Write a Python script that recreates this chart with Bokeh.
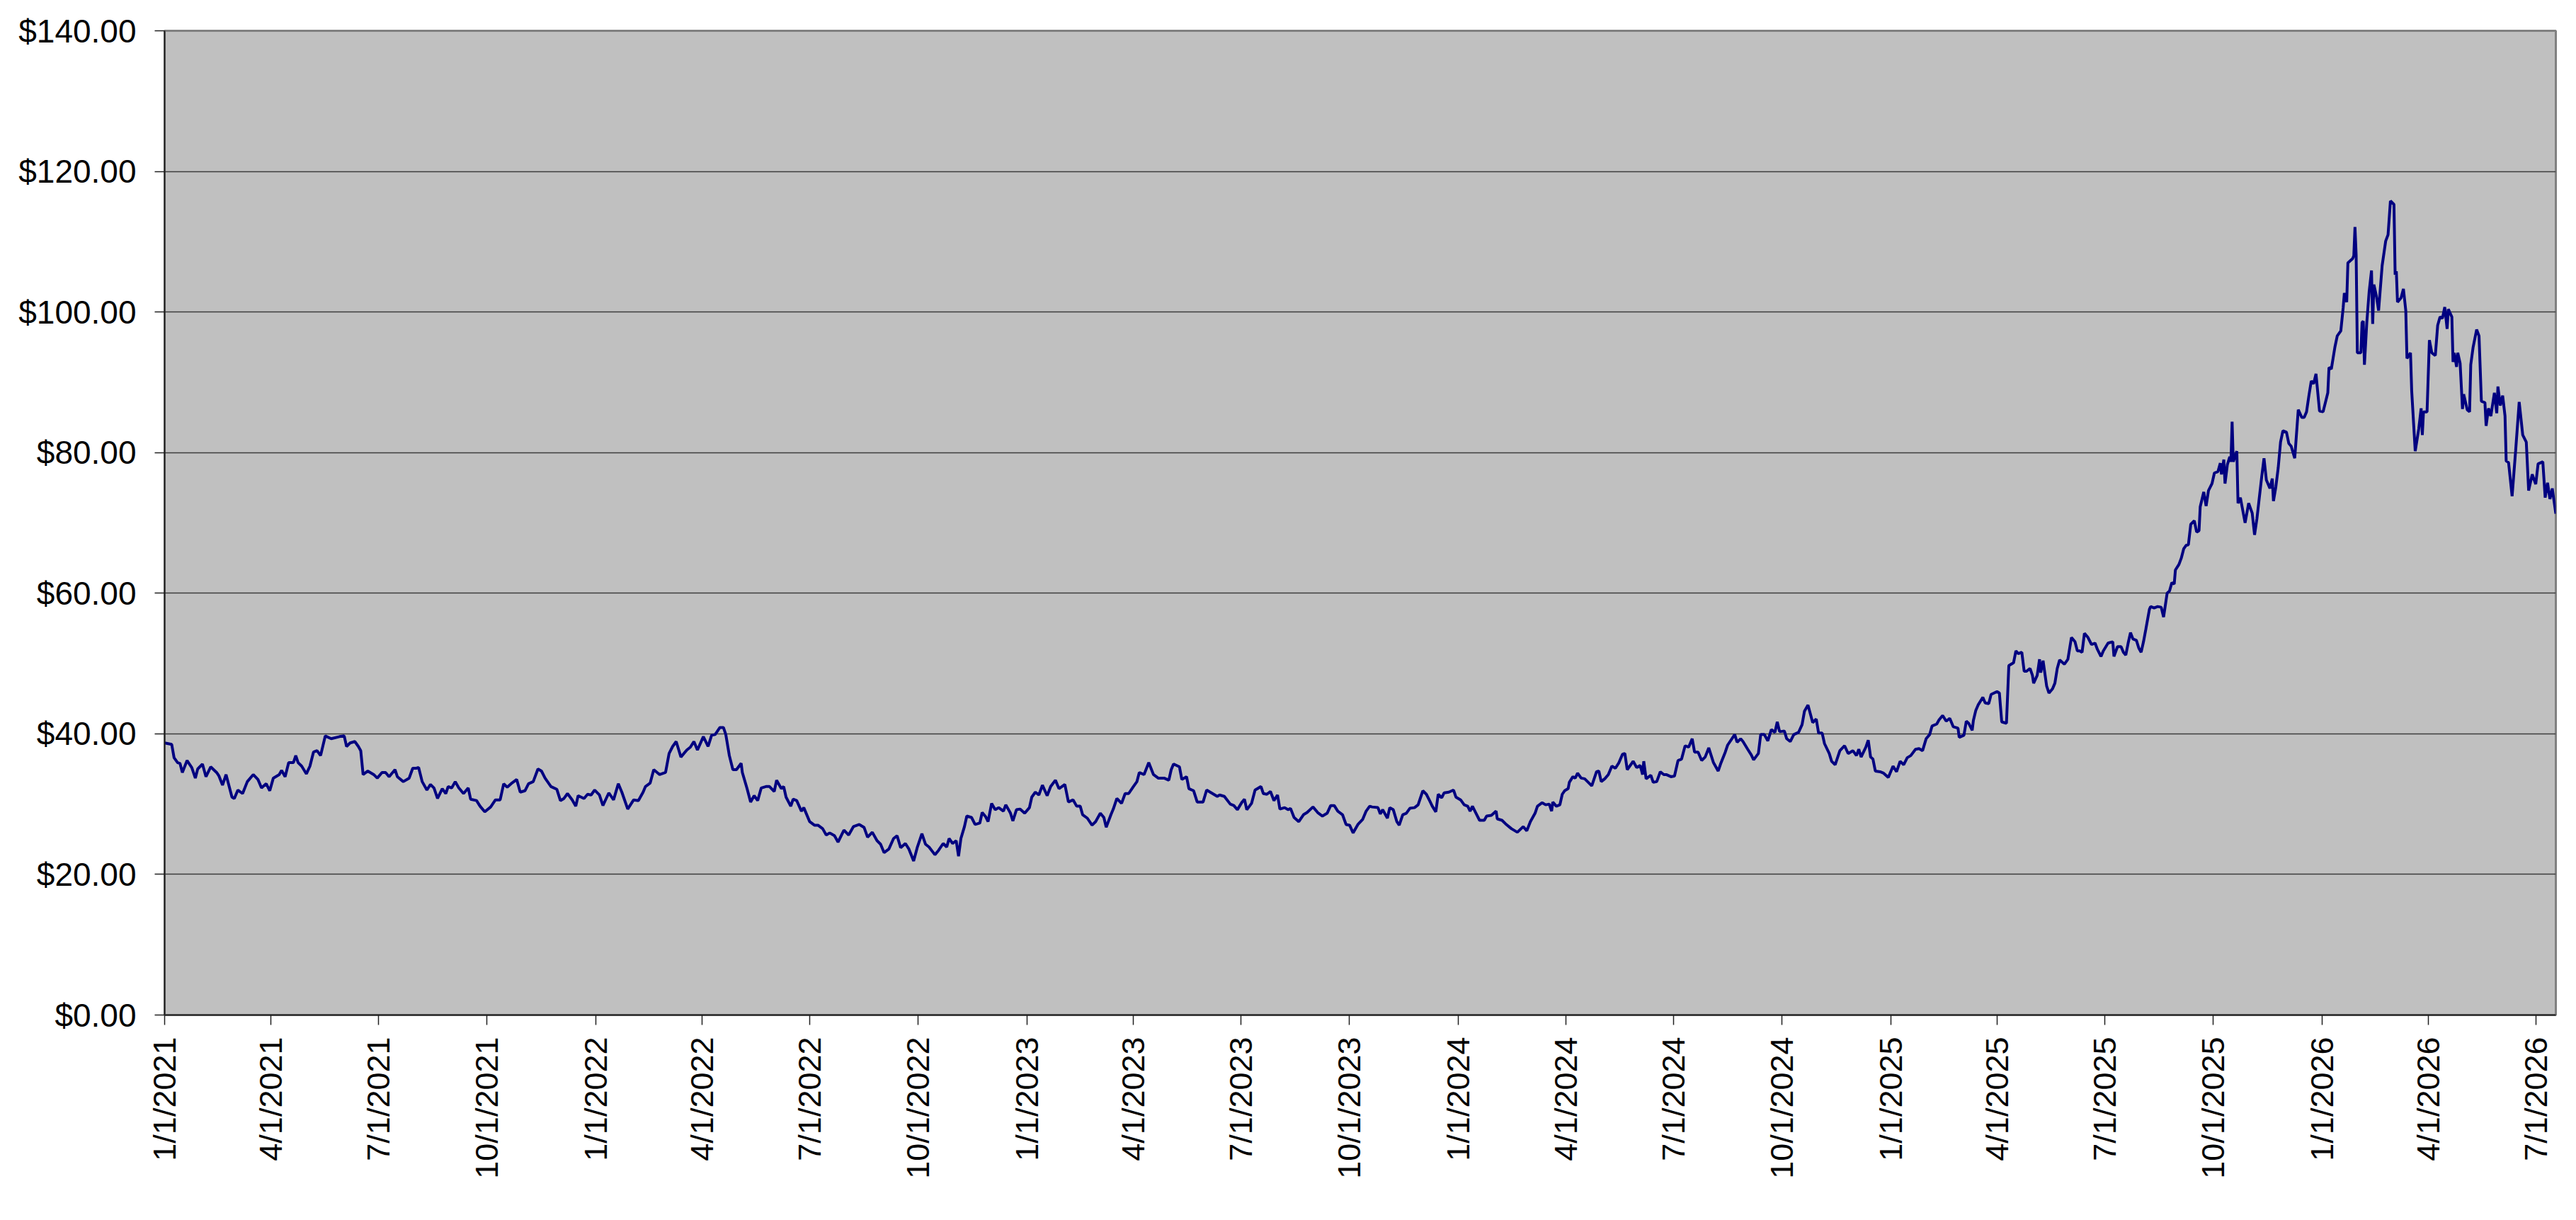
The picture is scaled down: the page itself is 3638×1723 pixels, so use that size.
import math
import numpy as np
import pandas as pd
from bokeh.plotting import figure
from bokeh.models import (ColumnDataSource, Range1d, FixedTicker,
                          NumeralTickFormatter, CustomJSTickFormatter)
from bokeh.embed import file_html
from bokeh.resources import INLINE

# ---- data: (days since 1/1/2021, price) ----
start_date = "2021-01-01"

series_2021_2022 = [
    (0, 38.7), (6, 38.5), (8, 36.6), (11, 35.9), (13, 35.8), (15, 34.5), (19, 36.2), (23, 35.2),
    (26, 33.7), (28, 35.0), (32, 35.7), (35, 33.9), (39, 35.3), (44, 34.5), (46, 34.0), (49, 32.7),
    (52, 34.2), (57, 31.0), (59, 30.8), (62, 32.0), (66, 31.5), (70, 33.2), (75, 34.2), (79, 33.5),
    (82, 32.3), (86, 32.9), (89, 31.9), (92, 33.7), (97, 34.2), (99, 34.8), (102, 33.9), (105, 35.9),
    (109, 35.9), (111, 36.9), (113, 35.9), (116, 35.4), (120, 34.3), (123, 35.4), (126, 37.4),
    (129, 37.6), (132, 36.9), (136, 39.7), (141, 39.3), (148, 39.6), (152, 39.7), (154, 38.2),
    (157, 38.7), (161, 38.9), (164, 38.2), (166, 37.6), (168, 34.2), (172, 34.7), (177, 34.2),
    (180, 33.7), (184, 34.5), (187, 34.5), (190, 33.9), (195, 34.9), (197, 33.9), (202, 33.2),
    (207, 33.7), (210, 35.1), (213, 35.1), (215, 35.2), (218, 33.2), (222, 32.0), (225, 32.8),
    (228, 32.3), (231, 30.8), (235, 32.2), (238, 31.5), (240, 32.5), (243, 32.3), (246, 33.2),
    (249, 32.3), (253, 31.5), (257, 32.3), (259, 30.7), (264, 30.5), (267, 29.7), (271, 28.9),
    (276, 29.6), (280, 30.6), (284, 30.6), (287, 32.9), (290, 32.4), (294, 33.0), (298, 33.5),
    (301, 31.7), (305, 31.9), (308, 32.9), (312, 33.2), (316, 35.0), (319, 34.7), (322, 33.7),
    (327, 32.5), (332, 32.1), (335, 30.5), (338, 30.8), (341, 31.5), (345, 30.6), (348, 29.7),
    (350, 31.2), (355, 30.8), (358, 31.4), (361, 31.3), (364, 32.0), (368, 31.3), (371, 29.8),
    (376, 31.6), (380, 30.6), (384, 32.9), (387, 31.7), (392, 29.3), (397, 30.6), (401, 30.5),
    (405, 31.7), (407, 32.5), (411, 33.0), (414, 34.9), (419, 34.2), (424, 34.5), (427, 37.2),
    (430, 38.2), (433, 38.9), (437, 36.7), (442, 37.7), (445, 38.1), (448, 38.9), (451, 37.7),
    (456, 39.6), (460, 38.2), (463, 39.8), (466, 39.9), (470, 40.9), (473, 40.9), (475, 39.9),
    (478, 36.9), (481, 34.9), (484, 34.9), (488, 35.8), (489, 34.5), (493, 32.2), (496, 30.3),
    (499, 31.2), (502, 30.5), (505, 32.3), (509, 32.5),
    (512, 32.5), (516, 31.8), (518, 33.4), (522, 32.2), (524, 32.5), (526, 31.0), (530, 29.7),
    (532, 30.7), (535, 30.5), (539, 29.0), (541, 29.5), (546, 27.5), (550, 27.0), (553, 27.0),
    (557, 26.5), (560, 25.6), (563, 25.9), (567, 25.5), (570, 24.6), (575, 26.3), (579, 25.6),
    (583, 26.8), (588, 27.1), (592, 26.7), (595, 25.3), (599, 26.0), (603, 24.8), (606, 24.3),
    (609, 23.1), (613, 23.6), (617, 25.1), (620, 25.5), (623, 23.8), (627, 24.4), (630, 23.6),
    (634, 21.9), (637, 23.8), (641, 25.8), (644, 24.3), (647, 23.9), (652, 22.8), (655, 23.4),
    (659, 24.4), (662, 23.9), (664, 25.1), (667, 24.4), (670, 24.8), (672, 22.6), (674, 25.1),
    (677, 26.8), (679, 28.3), (683, 28.1), (686, 27.1), (690, 27.3), (692, 28.8), (695, 28.2),
    (697, 27.5), (700, 30.1), (703, 29.2), (706, 29.5), (710, 29.0), (712, 29.9), (716, 28.7),
    (718, 27.6), (721, 29.2), (724, 29.3), (728, 28.7),
]

series_2023 = [
    (732, 29.5), (734, 31.0), (737, 31.7), (740, 31.3), (743, 32.7), (747, 31.2), (750, 32.5),
    (754, 33.4), (757, 32.2), (762, 32.8), (765, 30.3), (769, 30.6), (772, 29.7), (775, 29.7),
    (777, 28.5), (781, 28.0), (785, 27.0), (788, 27.5), (792, 28.7), (795, 28.1), (797, 26.7),
    (801, 28.5), (803, 29.3), (806, 30.8), (810, 30.1), (813, 31.5), (816, 31.5), (820, 32.5),
    (823, 33.2), (825, 34.5), (829, 34.2), (833, 35.9), (837, 34.2), (841, 33.7), (846, 33.7),
    (850, 33.4), (852, 34.9), (854, 35.7), (859, 35.3), (861, 33.5), (865, 33.9), (867, 32.2),
    (871, 31.9), (874, 30.3), (879, 30.3), (882, 32.0), (887, 31.5), (891, 31.1), (893, 31.3),
    (897, 31.1), (902, 30.0), (905, 29.8), (908, 29.2), (912, 30.3), (914, 30.7), (916, 29.2),
    (920, 30.1), (923, 32.0), (928, 32.5), (930, 31.5), (933, 31.4), (936, 31.8), (939, 30.5),
    (942, 31.3), (944, 29.3), (948, 29.5), (951, 29.2), (953, 29.4), (956, 28.1), (960, 27.5),
    (964, 28.5), (967, 28.8), (972, 29.6), (976, 28.8), (980, 28.3), (984, 28.7), (987, 29.8),
    (990, 29.8), (993, 29.0), (997, 28.5), (1000, 27.1), (1003, 27.0), (1006, 25.9), (1010, 27.1),
    (1014, 27.8), (1017, 29.0), (1020, 29.7), (1022, 29.6), (1027, 29.5), (1029, 28.6),
    (1031, 29.2), (1035, 28.0), (1037, 29.5), (1040, 29.2), (1043, 27.5), (1045, 27.0),
    (1048, 28.5), (1051, 28.7), (1054, 29.4), (1058, 29.5), (1061, 29.9), (1064, 31.4),
    (1065, 31.9), (1068, 31.4), (1071, 30.4), (1073, 29.7), (1076, 28.9), (1078, 31.4),
    (1081, 30.9), (1083, 31.6), (1087, 31.7), (1091, 32.0), (1093, 31.0),
]

series_2024 = [
    (1097, 30.6), (1100, 29.9), (1103, 29.7), (1105, 29.0), (1107, 29.7), (1110, 28.7),
    (1113, 27.7), (1117, 27.7), (1119, 28.3), (1123, 28.4), (1127, 29.0), (1128, 27.9),
    (1132, 27.7), (1135, 27.2), (1140, 26.5), (1145, 26.0), (1150, 26.8), (1153, 26.2),
    (1156, 27.5), (1160, 28.7), (1162, 29.7), (1166, 30.2), (1169, 29.9), (1172, 30.0),
    (1174, 29.0), (1175, 30.3), (1178, 29.7), (1181, 29.9), (1183, 31.4), (1185, 31.9),
    (1188, 32.2), (1189, 33.1), (1192, 33.9), (1194, 33.7), (1196, 34.4), (1199, 33.7),
    (1202, 33.6), (1205, 33.1), (1208, 32.6), (1212, 34.6), (1214, 34.7), (1216, 33.2),
    (1219, 33.6), (1222, 34.2), (1225, 35.4), (1228, 35.1), (1231, 35.9), (1234, 37.1),
    (1236, 37.2), (1238, 34.9), (1241, 35.6), (1243, 36.1), (1246, 35.2), (1249, 35.5),
    (1251, 34.2), (1252, 36.1), (1254, 33.6), (1258, 34.1), (1260, 33.1), (1263, 33.2),
    (1266, 34.6), (1269, 34.2), (1271, 34.2), (1275, 33.9), (1278, 34.0), (1281, 36.2),
    (1284, 36.4), (1287, 38.3), (1290, 38.1), (1293, 39.3), (1295, 37.4), (1298, 37.4),
    (1301, 36.2), (1304, 36.7), (1307, 38.0), (1311, 35.9), (1315, 34.7), (1317, 35.7),
    (1321, 37.4), (1323, 38.4), (1327, 39.4), (1329, 39.9), (1331, 38.8), (1334, 39.3),
    (1336, 38.9), (1340, 37.8), (1343, 37.0), (1345, 36.3), (1349, 37.2), (1351, 39.9),
    (1354, 39.9), (1357, 39.0), (1360, 40.6), (1363, 40.2), (1365, 41.7), (1367, 40.3),
    (1371, 40.4), (1373, 39.3), (1376, 38.9), (1379, 39.9), (1383, 40.2), (1386, 41.3),
    (1388, 43.2), (1391, 44.1), (1395, 41.6), (1398, 42.1), (1400, 40.1), (1403, 40.1),
    (1405, 38.6), (1409, 37.2), (1411, 36.1), (1414, 35.6), (1418, 37.6), (1422, 38.3),
    (1425, 37.2), (1429, 37.6), (1432, 36.9), (1434, 37.8), (1436, 36.7), (1440, 38.1),
    (1442, 39.1), (1444, 36.7), (1446, 36.4), (1448, 34.7), (1452, 34.6), (1455, 34.4),
    (1459, 33.8),
]

series_2025 = [
    (1463, 35.4), (1466, 34.6), (1469, 36.1), (1472, 35.6), (1475, 36.6), (1478, 36.9),
    (1482, 37.8), (1485, 37.9), (1488, 37.6), (1491, 39.3), (1494, 39.9), (1496, 41.1),
    (1500, 41.4), (1502, 42.0), (1505, 42.6), (1508, 41.8), (1511, 42.2), (1514, 41.0),
    (1518, 40.8), (1519, 39.5), (1523, 39.8), (1525, 41.8), (1527, 41.5), (1530, 40.5),
    (1531, 41.9), (1533, 43.3), (1535, 44.1), (1539, 45.2), (1541, 44.4), (1544, 44.3),
    (1546, 45.6), (1551, 46.0), (1553, 45.8), (1555, 41.7), (1559, 41.5), (1561, 49.7),
    (1565, 50.1), (1567, 51.8), (1569, 51.4), (1572, 51.6), (1574, 48.9), (1576, 48.9),
    (1579, 49.3), (1581, 48.3), (1582, 47.2), (1585, 48.3), (1587, 50.6), (1588, 48.7),
    (1590, 50.4), (1593, 46.8), (1595, 45.8), (1598, 46.4), (1600, 47.2), (1602, 49.3),
    (1604, 50.5), (1608, 49.9), (1611, 50.6), (1614, 53.7), (1617, 53.1), (1619, 51.8),
    (1621, 51.8), (1623, 51.6), (1625, 54.3), (1628, 53.7), (1631, 52.7), (1634, 52.9),
    (1636, 52.0), (1639, 51.0), (1641, 51.8), (1645, 52.9), (1649, 53.1), (1650, 51.0),
    (1653, 52.4), (1656, 52.4), (1658, 51.6), (1660, 51.2), (1662, 52.9), (1664, 54.4),
    (1666, 53.5), (1669, 53.3), (1671, 52.2), (1673, 51.6), (1675, 53.1), (1677, 54.9),
    (1680, 57.7), (1681, 58.1), (1684, 57.9), (1687, 58.1), (1690, 58.0), (1692, 56.6),
    (1695, 60.0), (1697, 60.3), (1699, 61.5), (1701, 61.3), (1702, 63.3), (1705, 64.1),
    (1707, 65.0), (1709, 66.3), (1711, 66.8), (1713, 66.9), (1715, 69.8), (1718, 70.3),
    (1720, 68.7), (1722, 68.9), (1723, 72.3), (1726, 74.4), (1728, 72.4), (1730, 74.6),
    (1733, 75.6), (1735, 77.1), (1738, 77.3), (1740, 78.5), (1741, 76.9), (1743, 79.0),
    (1744, 75.6), (1746, 78.3), (1748, 79.4), (1749, 78.7), (1750, 84.4), (1751, 78.7),
    (1754, 80.2), (1755, 72.8), (1757, 73.6), (1761, 70.0), (1764, 72.8), (1767, 71.4),
    (1769, 68.3), (1771, 70.6), (1775, 76.5), (1777, 79.2), (1779, 76.1), (1782, 74.9),
    (1784, 76.3), (1785, 73.1), (1787, 75.1), (1789, 77.8), (1791, 81.5), (1793, 83.1),
    (1796, 82.9), (1798, 81.3), (1800, 80.9), (1803, 79.2), (1806, 86.1), (1809, 85.0),
    (1811, 85.0), (1813, 85.8), (1815, 88.1), (1817, 90.2), (1819, 89.8), (1821, 91.2),
    (1824, 85.9),
]

series_2026 = [
    (1827, 85.8), (1831, 88.5), (1832, 92.1), (1834, 91.9), (1837, 95.0), (1839, 96.6),
    (1842, 97.3), (1844, 100.6), (1845, 102.7), (1847, 101.4), (1848, 107.0), (1852, 107.6),
    (1853, 108.0), (1854, 112.1), (1855, 108.1), (1856, 94.2), (1859, 94.2), (1860, 98.5),
    (1861, 98.7), (1862, 92.5), (1864, 98.5), (1866, 102.9), (1868, 105.9), (1869, 98.3),
    (1870, 103.9), (1872, 102.4), (1874, 100.2), (1877, 106.6), (1880, 110.1), (1882, 111.0),
    (1884, 115.8), (1887, 115.3), (1888, 105.3), (1889, 105.8), (1890, 101.4), (1893, 102.0),
    (1895, 103.3), (1897, 100.2), (1898, 93.4), (1901, 94.2), (1902, 88.8), (1905, 80.2),
    (1908, 83.4), (1910, 86.3), (1911, 82.5), (1912, 85.8), (1915, 85.8), (1917, 96.0),
    (1919, 94.2), (1922, 93.8), (1924, 98.1), (1926, 99.3), (1928, 99.1), (1930, 100.7),
    (1932, 97.6), (1933, 100.4), (1936, 99.3), (1937, 92.9), (1938, 94.2), (1940, 92.2),
    (1941, 94.2), (1943, 92.7), (1945, 86.2), (1946, 88.3), (1949, 86.1), (1951, 85.8),
    (1952, 92.5), (1954, 95.0), (1957, 97.5), (1959, 96.6), (1961, 87.3), (1964, 87.1),
    (1965, 83.8), (1967, 86.3), (1969, 85.2), (1972, 88.5), (1974, 85.6), (1975, 89.4),
    (1977, 86.7), (1979, 88.1), (1981, 85.2), (1982, 78.8), (1984, 78.6), (1987, 73.8),
    (1990, 80.3), (1993, 87.2), (1996, 82.5), (1999, 81.5), (2001, 74.6), (2004, 76.9),
    (2007, 75.5), (2009, 78.4), (2013, 78.7), (2015, 73.6), (2017, 75.7), (2019, 73.4),
    (2021, 74.9), (2024, 71.3),
]

x_tick_labels = [
    "1/1/2021", "4/1/2021", "7/1/2021", "10/1/2021",
    "1/1/2022", "4/1/2022", "7/1/2022", "10/1/2022",
    "1/1/2023", "4/1/2023", "7/1/2023", "10/1/2023",
    "1/1/2024", "4/1/2024", "7/1/2024", "10/1/2024",
    "1/1/2025", "4/1/2025", "7/1/2025", "10/1/2025",
    "1/1/2026", "4/1/2026", "7/1/2026",
]
y_ticks = [0, 20, 40, 60, 80, 100, 120, 140]

# ---- build ----
all_pts = series_2021_2022 + series_2023 + series_2024 + series_2025 + series_2026
days = np.array([d for d, _ in all_pts])
prices = np.array([v for _, v in all_pts])
base = pd.Timestamp(start_date)
dates = base + pd.to_timedelta(days, unit="D")
source = ColumnDataSource(data=dict(date=dates, price=prices))

tick_dates = pd.to_datetime(x_tick_labels, format="%m/%d/%Y")
tick_ms = [float(t.value // 10**6) for t in tick_dates]

x_start = dates.min()
x_end = dates.max()

W, H = 3622, 1704
p = figure(width=W, height=H, x_axis_type="datetime",
           output_backend="svg", toolbar_location=None,
           x_range=Range1d(x_start, x_end), y_range=Range1d(0, 140),
           min_border_left=232, min_border_right=13,
           min_border_top=43, min_border_bottom=271)

p.background_fill_color = "#C0C0C0"
p.border_fill_color = "white"
p.outline_line_color = "#808080"
p.outline_line_width = 3

p.line("date", "price", source=source, line_color="#000080", line_width=4)

font = "Liberation Sans"
# y axis
p.yaxis.ticker = FixedTicker(ticks=y_ticks)
p.yaxis.formatter = NumeralTickFormatter(format="$0.00")
p.yaxis.minor_tick_line_color = None
p.yaxis.major_tick_out = 14
p.yaxis.major_tick_in = 0
p.yaxis.major_tick_line_color = "#202020"
p.yaxis.major_tick_line_width = 1.5
p.yaxis.axis_line_color = "#202020"
p.yaxis.axis_line_width = 2
p.yaxis.major_label_text_font = font
p.yaxis.major_label_text_font_size = "46px"
p.yaxis.major_label_text_color = "black"
p.yaxis.major_label_standoff = 26

# x axis
p.xaxis.ticker = FixedTicker(ticks=tick_ms)
p.xaxis.formatter = CustomJSTickFormatter(
    args=dict(tick_vals=tick_ms, tick_texts=x_tick_labels),
    code="const i = tick_vals.indexOf(tick); return i >= 0 ? tick_texts[i] : '';")
p.xaxis.minor_tick_line_color = None
p.xaxis.major_tick_out = 14
p.xaxis.major_tick_in = 0
p.xaxis.major_tick_line_color = "#202020"
p.xaxis.major_tick_line_width = 1.5
p.xaxis.axis_line_color = "#202020"
p.xaxis.axis_line_width = 2
p.xaxis.major_label_orientation = math.pi / 2
p.xaxis.major_label_text_font = font
p.xaxis.major_label_text_font_size = "45px"
p.xaxis.major_label_text_color = "black"
p.xaxis.major_label_standoff = 17

p.xgrid.grid_line_color = None
p.ygrid.ticker = FixedTicker(ticks=y_ticks)
p.ygrid.grid_line_color = "#3c3c3c"
p.ygrid.grid_line_width = 1.5

open("out.html", "w").write(file_html(p, INLINE))
